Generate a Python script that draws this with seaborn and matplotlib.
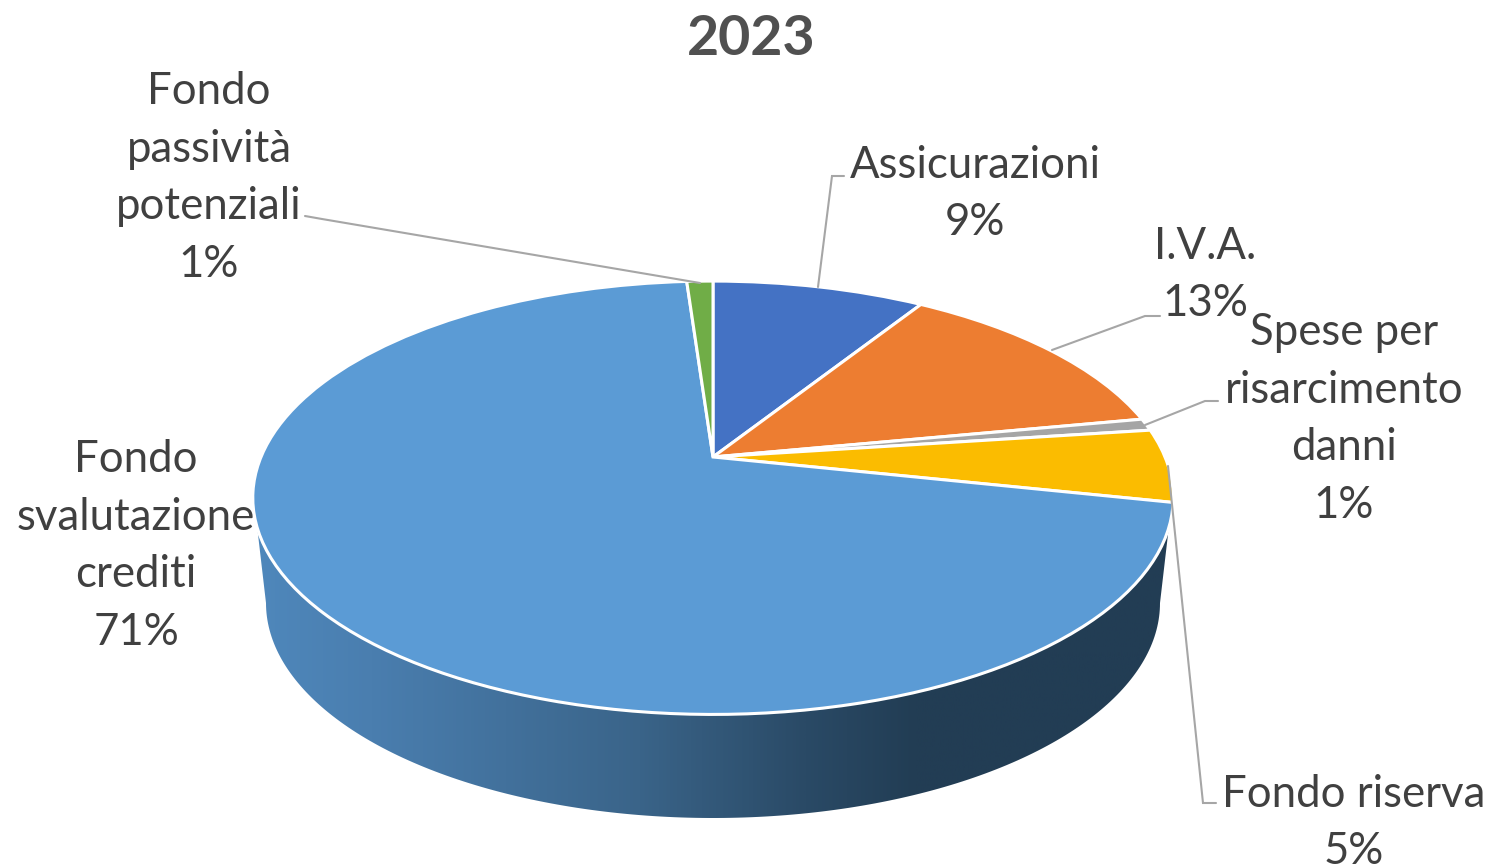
import numpy as np
import matplotlib
matplotlib.use('Agg')
import matplotlib.pyplot as plt
import seaborn as sns
from matplotlib.colors import LinearSegmentedColormap
from matplotlib.patches import Polygon
from matplotlib.transforms import Transform

# dati
labels = ['Assicurazioni', 'I.V.A.', 'Spese per\nrisarcimento\ndanni', 'Fondo riserva',
          'Fondo\nsvalutazione\ncrediti', 'Fondo\npassività\npotenziali']
values = [8.95, 13.05, 0.9, 5.45, 70.55, 1.1]
colors = ['#4472C4', '#ED7D31', '#A5A5A5', '#FBBC00', '#5B9BD5', '#70AD47']
title = '2023'

label_pos = [(975, 194), (1205, 275), (1344, 419), (1354, 823), (136, 546), (209, 178)]
leaders = [[(844, 176), (832, 176), (818, 287)],
           [(1160, 316), (1145, 316), (1052, 350)],
           [(1218, 401), (1205, 401), (1145, 425)],
           [(1216, 803), (1203, 803), (1168, 466)],
           [],
           [(305, 216), (322, 219), (700, 283)]]

side_colors = ['#4F88BC', '#4A7EAF', '#3A6489', '#2A4A66', '#223D54', '#223D54']
side_stops = [0.0, 0.13, 0.42, 0.60, 0.72, 1.0]


class Prospettiva(Transform):
    # cerchio unitario -> ellisse in prospettiva (pixel)
    input_dims = 2
    output_dims = 2

    def __init__(self, cx, cy, a, b, k):
        super().__init__()
        self.cx, self.cy, self.a, self.b, self.k = cx, cy, a, b, k

    def transform_non_affine(self, values):
        u, v = values[:, 0], values[:, 1]
        w = 1 + self.k * v
        return np.column_stack([self.cx + self.a * u / w, self.cy - self.b * v / w])


sns.set_theme(style='white')
plt.rcParams['font.family'] = ['Lato', 'DejaVu Sans']

fig, ax = plt.subplots(figsize=(14.93, 8.64), dpi=100)
fig.subplots_adjust(0, 0, 1, 1)

wedges, _ = ax.pie(values, colors=colors, startangle=90, counterclock=False,
                   wedgeprops=dict(edgecolor='white', linewidth=2.2))
top = Prospettiva(713, 457, 452, 209, 0.188)
for w in wedges:
    w.set_transform(top + ax.transData)
    w.set_zorder(3)

ax.set_aspect('auto')
ax.set_xlim(0, 1493)
ax.set_ylim(864, 0)
ax.axis('off')

# fianco del cilindro con sfumatura
rim = Prospettiva(713, 603, 447, 215, 0.0)
t = np.linspace(np.pi, 2 * np.pi, 200)
rim_pts = rim.transform_non_affine(np.column_stack([np.cos(t), np.sin(t)]))
top_pts = top.transform_non_affine(np.column_stack([np.cos(t[::-1]), np.sin(t[::-1])]))
side_poly = Polygon(np.vstack([[(254, 500)], rim_pts, [(1172, 500)], top_pts]),
                    closed=True, transform=ax.transData, facecolor='none', edgecolor='none')
ax.add_patch(side_poly)
cmap = LinearSegmentedColormap.from_list('fianco', list(zip(side_stops, side_colors)))
img = ax.imshow(np.linspace(0, 1, 512)[None, :], cmap=cmap, extent=(250, 1176, 830, 480),
                aspect='auto', zorder=1)
img.set_clip_path(side_poly)
ax.set_xlim(0, 1493)
ax.set_ylim(864, 0)

for line in leaders:
    if line:
        xs, ys = zip(*line)
        ax.plot(xs, ys, color='#A6A6A6', lw=1.5, zorder=4, solid_joinstyle='miter')

for lab, val, (x, y) in zip(labels, values, label_pos):
    ax.text(x, y, f'{lab}\n{val:.0f}%', ha='center', va='center', fontsize=31.5,
            color='#404040', linespacing=1.5, zorder=5)

ax.text(751, 39, title, ha='center', va='center', fontsize=40, fontweight='bold', color='#505050')

plt.savefig('out.png', dpi=100)
